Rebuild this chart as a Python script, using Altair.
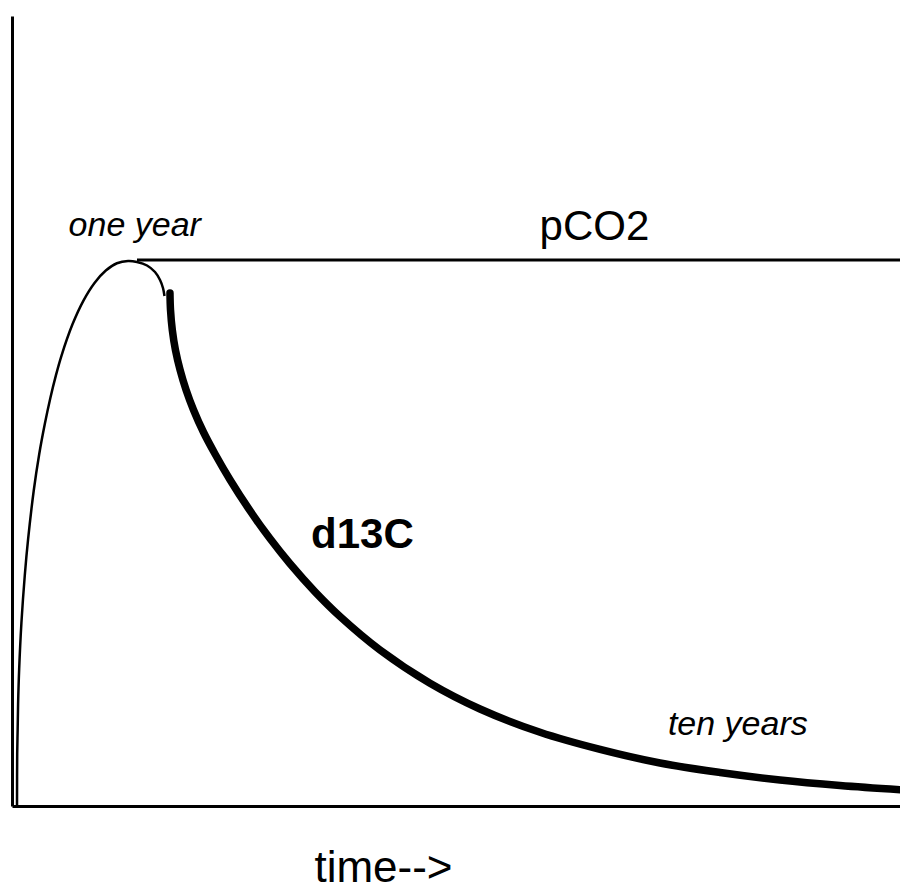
import altair as alt
import pandas as pd

# time axis in arbitrary units (0-100), level in arbitrary units (0-100)
thin_t = [0.56, 0.58, 0.63, 0.68, 0.80, 1.05, 1.43, 1.80, 2.42, 3.04, 3.66, 4.28, 4.90, 5.51,
          6.75, 7.99, 9.23, 10.47, 11.71, 12.95, 13.95, 15.07, 15.96, 16.52, 16.85, 17.02]
thin_v = [0.13, 6.58, 9.62, 12.91, 17.34, 23.16, 29.24, 33.80, 39.87, 44.56, 48.35, 51.65, 54.51, 56.96,
          60.97, 64.01, 66.24, 67.78, 68.70, 68.99, 68.86, 68.42, 67.59, 66.58, 65.57, 64.56]

pco2_t = [13.95, 100.0]
pco2_v = [69.1, 69.1]

d13c_t = [17.63, 17.69, 17.89, 18.24, 18.76, 19.43, 20.26, 21.36, 22.66, 24.33, 26.56, 28.79,
          31.03, 33.82, 36.61, 41.07, 46.65, 52.23, 58.93, 65.63, 72.32, 79.02, 85.71, 92.41, 99.44]
d13c_v = [64.94, 62.78, 60.25, 57.72, 55.19, 52.66, 50.13, 47.34, 44.56, 41.30, 37.38, 33.85,
          30.66, 27.11, 23.99, 19.75, 15.54, 12.28, 9.33, 7.16, 5.44, 4.24, 3.29, 2.59, 2.03]

label_text = ["one year", "pCO2", "d13C", "ten years"]
label_t = [13.7, 65.0, 39.1, 81.0]
label_v = [72.2, 71.7, 32.7, 9.0]
x_title = "time-->"

FONT = "Liberation Sans"

xs = alt.Scale(domain=[0, 99.1], nice=False, zero=False)
ys = alt.Scale(domain=[0, 100], nice=False, zero=False)

thin_df = pd.DataFrame({"t": thin_t, "v": thin_v, "i": list(range(len(thin_t)))})
pco2_df = pd.DataFrame({"t": pco2_t, "v": pco2_v, "i": list(range(len(pco2_t)))})
d13c_df = pd.DataFrame({"t": d13c_t, "v": d13c_v, "i": list(range(len(d13c_t)))})
lab_df = pd.DataFrame({"label": label_text, "t": label_t, "v": label_v})

x_axis = alt.Axis(
    title=x_title, domain=True, domainColor="black", domainWidth=3, ticks=False, labels=False,
    grid=False, titleFont=FONT, titleFontSize=44, titleFontWeight="normal", titleColor="black",
    titleX=371, titleY=75, titleAlign="center", titleBaseline="alphabetic",
)
y_axis = alt.Axis(
    title="", domain=True, domainColor="black", domainWidth=3, ticks=False, labels=False, grid=False,
)

X = alt.X("t:Q", scale=xs, axis=x_axis)
Y = alt.Y("v:Q", scale=ys, axis=y_axis)

thin = alt.Chart(thin_df).mark_line(color="black", strokeWidth=2.5, interpolate="catmull-rom").encode(
    x=X, y=Y, order="i:Q",
)

pco2 = alt.Chart(pco2_df).mark_line(color="black", strokeWidth=3).encode(
    x=X, y=Y, order="i:Q",
)

d13c = alt.Chart(d13c_df).mark_line(color="black", strokeWidth=7.5, strokeCap="round",
                                    strokeJoin="round", interpolate="catmull-rom").encode(
    x=X, y=Y, order="i:Q",
)


def label(idx, size, style="normal", weight="normal"):
    return alt.Chart(lab_df.iloc[[idx]]).mark_text(
        font=FONT, fontSize=size, fontStyle=style, fontWeight=weight, color="black",
        align="center", baseline="alphabetic",
    ).encode(x=X, y=Y, text="label:N")


chart = alt.layer(
    thin, pco2, d13c,
    label(0, 34, style="italic"),
    label(1, 42),
    label(2, 42, weight="bold"),
    label(3, 34, style="italic"),
).properties(
    width=888, height=790,
    padding={"left": 4, "top": 8, "right": 0, "bottom": 76},
    autosize=alt.AutoSizeParams(type="none"),
    background="white",
).configure_view(stroke=None)

chart.save("out.html", embed_options={"renderer": "svg", "actions": False})
